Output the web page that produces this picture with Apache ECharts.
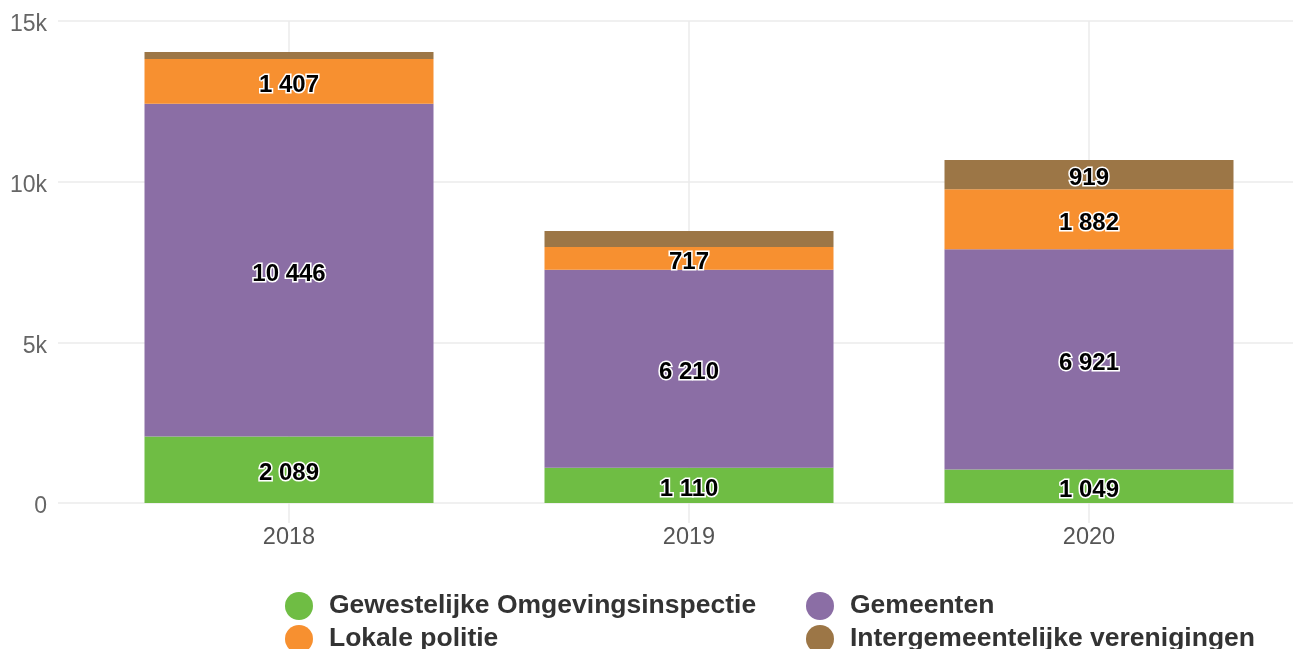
<!DOCTYPE html>
<html>
<head>
<meta charset="utf-8">
<script src="https://cdn.jsdelivr.net/npm/echarts@6/dist/echarts.min.js"></script>
<style>html,body{margin:0;padding:0;background:#fff}#c{width:1293px;height:649px}</style>
</head>
<body>
<div id="c"></div>
<script>
const categories = ['2018', '2019', '2020'];
const gewestelijke = [2089, 1110, 1049];
const gemeenten = [10446, 6210, 6921];
const lokalePolitie = [1407, 717, 1882];
const intergemeentelijke = [220, 500, 919];
const seriesNames = ['Gewestelijke Omgevingsinspectie', 'Gemeenten', 'Lokale politie', 'Intergemeentelijke verenigingen'];
const yTicks = [0, 5000, 10000, 15000];
const yTickLabels = ['0', '5k', '10k', '15k'];
const colors = ['#6FBD44', '#8B6EA5', '#F79030', '#9C7646'];

// helper axis: ticks halfway between category boundaries
const helperCats = [];
categories.forEach((c, i) => { helperCats.push('b' + i); helperCats.push(c); });
helperCats.push('b' + categories.length);

const fmt = v => String(v).replace(/\B(?=(\d{3})+(?!\d))/g, ' ');
const FONT = '"Liberation Sans", Arial, sans-serif';

const legendPos = [[285, 592], [806, 592], [285, 625], [806, 625]];
const legends = seriesNames.map((n, k) => ({
  data: [n], left: legendPos[k][0], top: legendPos[k][1], padding: 0,
  icon: 'circle', itemWidth: 28, itemHeight: 28, selectedMode: false,
  textStyle: {fontFamily: FONT, fontWeight: 'bold', fontSize: 26.5, color: '#333', padding: [0, 0, 0, 11]}
}));

const values = [gewestelijke, gemeenten, lokalePolitie, intergemeentelijke];
const chart = echarts.init(document.getElementById('c'));
chart.setOption({
  animation: false,
  grid: [
    {left: 89, right: 4, top: 21, height: 502},
    {left: 58, right: 0, top: 21, height: 482}
  ],
  legend: legends,
  xAxis: [
    {type: 'category', gridIndex: 0, data: categories,
     axisLine: {show: false}, axisTick: {show: false}, splitLine: {show: false},
     axisLabel: {fontFamily: FONT, fontSize: 23.5, color: '#555', margin: 3}},
    {type: 'category', gridIndex: 0, data: helperCats, boundaryGap: false, position: 'bottom',
     axisLine: {show: false}, axisTick: {show: false}, axisLabel: {show: false},
     splitLine: {show: true, interval: (i) => i % 2 === 1, lineStyle: {color: '#ebebeb', width: 1.5}}},
    {type: 'category', gridIndex: 1, data: categories, show: false}
  ],
  yAxis: [
    {type: 'value', gridIndex: 0, min: -628, max: 15133, show: false, splitLine: {show: false}},
    {type: 'value', gridIndex: 1, min: 0, max: 15000, interval: 5000,
     axisLine: {show: false}, axisTick: {show: false},
     splitLine: {show: true, lineStyle: {color: '#ebebeb', width: 1.5}},
     axisLabel: {fontFamily: FONT, fontSize: 23, color: '#666', margin: 11,
       verticalAlign: 'top', lineHeight: 8,
       formatter: v => yTickLabels[yTicks.indexOf(v)]}}
  ],
  series: values.map((arr, k) => ({
    name: seriesNames[k], type: 'bar', stack: 'total', xAxisIndex: 0, yAxisIndex: 0,
    barWidth: 289, data: arr, z: 3,
    itemStyle: {color: colors[k]},
    label: {show: true, position: 'inside', offset: [0, 4], fontFamily: FONT, fontWeight: 'bold', fontSize: 24,
      color: '#000', textBorderColor: '#fff', textBorderWidth: 3,
      formatter: p => p.value < 600 ? '' : fmt(p.value)}
  }))
});
</script>
</body>
</html>
